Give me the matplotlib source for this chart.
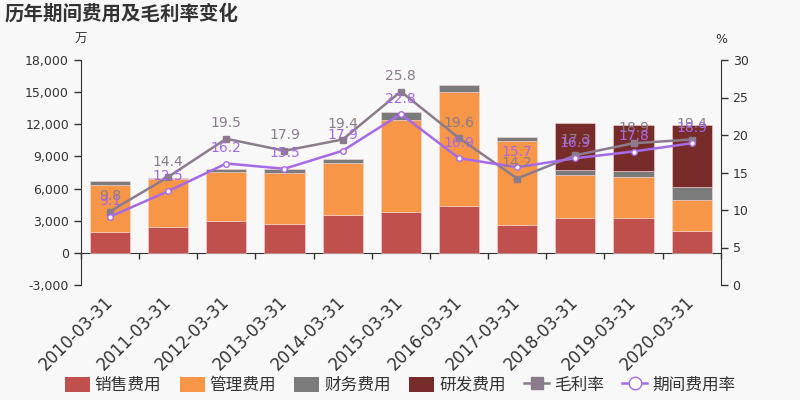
import matplotlib
matplotlib.use('Agg')
import matplotlib.pyplot as plt
import matplotlib.ticker as mticker
from matplotlib.lines import Line2D
from matplotlib.patches import Patch
import numpy as np

plt.rcParams['font.family'] = ['DejaVu Sans', 'Noto Sans CJK SC']

dates = ['2010-03-31', '2011-03-31', '2012-03-31', '2013-03-31', '2014-03-31', '2015-03-31',
         '2016-03-31', '2017-03-31', '2018-03-31', '2019-03-31', '2020-03-31']
# 单位: 万
sales = [1930, 2400, 2985, 2735, 3515, 3795, 4410, 2640, 3295, 3295, 2080]
admin = [4440, 4530, 4565, 4725, 4850, 8635, 10635, 7775, 3980, 3825, 2895]
finance = [320, 30, 250, 370, 370, 720, 625, 405, 465, 530, 1180]
rnd = [0, 0, 0, 0, 0, 0, 0, 0, 4385, 4320, 5755]
# 单位: %
gross_margin = [9.8, 14.4, 19.5, 17.9, 19.4, 25.8, 19.6, 14.2, 17.3, 18.9, 19.4]
period_rate = [9.1, 12.5, 16.2, 15.5, 17.9, 22.8, 16.9, 15.7, 16.9, 17.8, 18.9]

c_sales, c_admin, c_fin, c_rnd = '#c0504d', '#f79646', '#7b7b7b', '#772c2a'
c_gm, c_pr = '#8c7b8c', '#a66ae8'
txt = '#333333'
bg = '#f8f8f8'

fig = plt.figure(figsize=(8, 4), dpi=100, facecolor=bg)
ax = fig.add_axes([0.101, 0.2875, 0.8, 0.5625], facecolor=bg)
ax2 = ax.twinx()

x = np.arange(len(dates))
w = 0.69
edge = dict(edgecolor=(1, 0.85, 0.85, 0.6), linewidth=0.6)
b1 = np.array(sales)
b2 = b1 + np.array(admin)
b3 = b2 + np.array(finance)
ax.bar(x, sales, w, color=c_sales, **edge)
ax.bar(x, admin, w, bottom=b1, color=c_admin, **edge)
ax.bar(x, finance, w, bottom=b2, color=c_fin, **edge)
rnd_arr = np.array(rnd)
mask = rnd_arr > 0
ax.bar(x[mask], rnd_arr[mask], w, bottom=b3[mask], color=c_rnd, **edge)

ax.set_xlim(-0.5, len(dates) - 0.5)
ax.set_ylim(-3000, 18000)
ax.yaxis.set_major_locator(mticker.MultipleLocator(3000))
ax.yaxis.set_major_formatter(mticker.FuncFormatter(lambda v, p: f'{int(v):,}'))
ax.tick_params(axis='y', colors=txt, labelsize=9, length=5, width=1)
ax.set_xticks(x)
ax.set_xticklabels(dates, rotation=45, ha='right', va='center', rotation_mode='anchor',
                   fontsize=12, color=txt)
ax.tick_params(axis='x', length=0, pad=10)
for s in ['top', 'bottom', 'right']:
    ax.spines[s].set_visible(False)
ax.spines['left'].set_color(txt)

# zero line with ticks between categories
zx = ax.secondary_xaxis(0, transform=ax.transData)
zx.set_xticks(np.arange(len(dates) + 1) - 0.5)
zx.set_xticklabels([])
zx.tick_params(length=4, color=txt, width=1)
zx.spines['bottom'].set_color(txt)

ax2.set_ylim(0, 30)
ax2.yaxis.set_major_locator(mticker.MultipleLocator(5))
ax2.tick_params(axis='y', colors=txt, labelsize=9, length=5, width=1)
for s in ['top', 'bottom', 'left']:
    ax2.spines[s].set_visible(False)
ax2.spines['right'].set_color(txt)

ax2.plot(x, gross_margin, color=c_gm, lw=1.8, marker='s', ms=4, zorder=5)
ax2.plot(x, period_rate, color=c_pr, lw=1.8, marker='o', ms=4, mfc='white',
         mec=c_pr, mew=1, zorder=6)
for xi, v in zip(x, gross_margin):
    ax2.annotate(f'{v}', (xi, v), xytext=(0, 11), textcoords='offset points',
                 ha='center', va='center', fontsize=10, color=c_gm, zorder=7)
for xi, v in zip(x, period_rate):
    ax2.annotate(f'{v}', (xi, v), xytext=(0, 11), textcoords='offset points',
                 ha='center', va='center', fontsize=10, color=c_pr, zorder=8)

ax.text(0, 1.093, '万', transform=ax.transAxes, ha='center', va='center',
        fontsize=9, color=txt)
ax.text(1, 1.093, '%', transform=ax.transAxes, ha='center', va='center',
        fontsize=9, color=txt)
fig.text(0.006, 0.965, '历年期间费用及毛利率变化', ha='left', va='center',
         fontsize=14, fontweight='bold', color=txt)

handles = [
    Patch(facecolor=c_sales, label='销售费用'),
    Patch(facecolor=c_admin, label='管理费用'),
    Patch(facecolor=c_fin, label='财务费用'),
    Patch(facecolor=c_rnd, label='研发费用'),
    Line2D([0], [0], color=c_gm, lw=1.8, marker='s', ms=9, label='毛利率'),
    Line2D([0], [0], color=c_pr, lw=1.8, marker='o', ms=9, mfc='white', mec=c_pr,
           label='期间费用率'),
]
fig.legend(handles=handles, loc='center', bbox_to_anchor=(0.5, 0.0375), ncol=6,
           frameon=False, fontsize=12, handlelength=1.5, handleheight=1.0,
           handletextpad=0.3, columnspacing=1.1, labelcolor=txt)

fig.savefig('out.png', dpi=100, facecolor=bg)
